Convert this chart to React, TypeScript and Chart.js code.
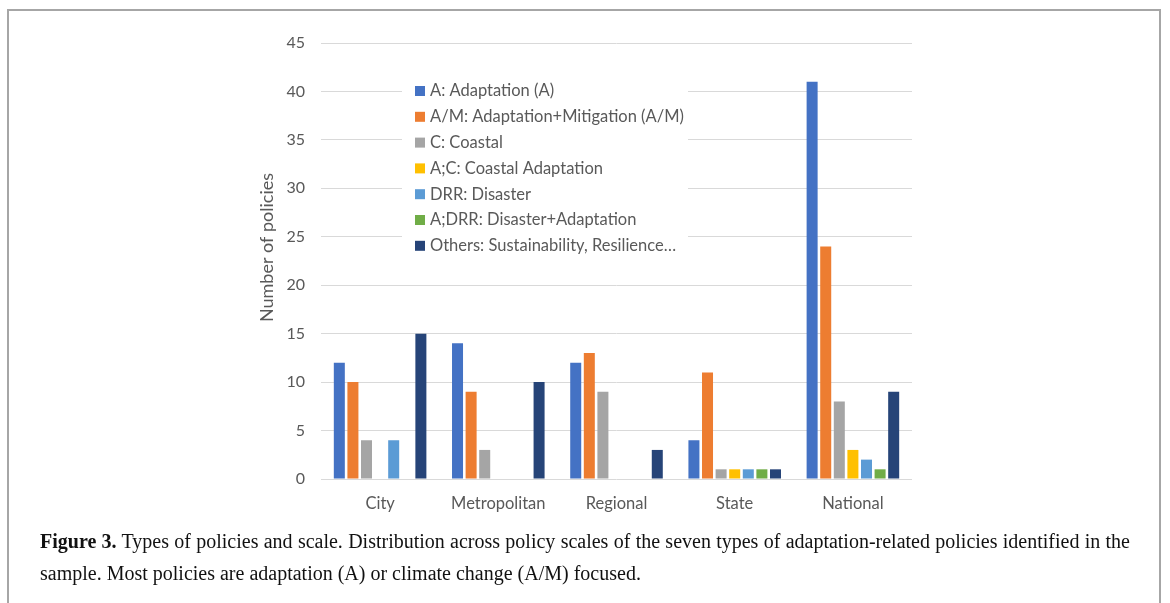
import React, { useEffect, useRef } from "react";
import { Chart, registerables } from "chart.js";

Chart.register(...registerables);

const categories = ["City", "Metropolitan", "Regional", "State", "National"];
const seriesLabels = [
  "A: Adaptation (A)",
  "A/M: Adaptation+Mitigation (A/M)",
  "C: Coastal",
  "A;C: Coastal Adaptation",
  "DRR: Disaster",
  "A;DRR: Disaster+Adaptation",
  "Others: Sustainability, Resilience…",
];
const seriesColors = ["#4472C4", "#ED7D31", "#A5A5A5", "#FFC000", "#5B9BD5", "#70AD47", "#264478"];
const adaptation = [12, 14, 12, 4, 41];
const adaptationMitigation = [10, 9, 13, 11, 24];
const coastal = [4, 3, 9, 1, 8];
const coastalAdaptation = [0, 0, 0, 1, 3];
const disaster = [4, 0, 0, 1, 2];
const disasterAdaptation = [0, 0, 0, 1, 1];
const others = [15, 10, 3, 1, 9];
const seriesValues = [
  adaptation,
  adaptationMitigation,
  coastal,
  coastalAdaptation,
  disaster,
  disasterAdaptation,
  others,
];
const yTickValues = [0, 5, 10, 15, 20, 25, 30, 35, 40, 45];
const yAxisTitle = "Number of policies";

const FONT = "Lato, 'Open Sans', sans-serif";

const insideLegend = {
  id: "insideLegend",
  afterDraw(chart: any, _args: any, opts: any) {
    const { ctx, chartArea } = chart;
    const x0 = chartArea.left + opts.offsetX;
    const y0 = chartArea.top + opts.offsetY;
    ctx.save();
    ctx.fillStyle = "#ffffff";
    ctx.fillRect(x0, y0, opts.width, opts.height);
    ctx.font = opts.font;
    ctx.textBaseline = "middle";
    ctx.textAlign = "left";
    chart.data.datasets.forEach((ds: any, i: number) => {
      const cy = y0 + opts.firstRow + i * opts.rowGap;
      ctx.fillStyle = ds.backgroundColor;
      ctx.fillRect(x0 + opts.boxX, cy - opts.boxSize / 2, opts.boxSize, opts.boxSize);
      ctx.fillStyle = opts.color;
      ctx.fillText(ds.label, x0 + opts.textX, cy);
    });
    ctx.restore();
  },
};

const yTitlePlugin = {
  id: "yTitlePlugin",
  afterDraw(chart: any, _args: any, opts: any) {
    const { ctx, chartArea } = chart;
    ctx.save();
    ctx.translate(chartArea.left + opts.dx, chartArea.top + opts.dy);
    ctx.rotate(-Math.PI / 2);
    ctx.font = opts.font;
    ctx.fillStyle = opts.color;
    ctx.textAlign = "center";
    ctx.textBaseline = "middle";
    ctx.fillText(opts.text, 0, 0);
    ctx.restore();
  },
};

function BarChart() {
  const ref = useRef<HTMLCanvasElement | null>(null);
  useEffect(() => {
    if (!ref.current) return;
    const chart = new Chart(ref.current, {
      type: "bar",
      data: {
        labels: categories,
        datasets: seriesLabels.map((label, i) => ({
          label,
          data: seriesValues[i],
          backgroundColor: seriesColors[i],
          borderWidth: 0,
          categoryPercentage: 0.805,
          barPercentage: 0.81,
        })),
      },
      options: {
        animation: false,
        responsive: false,
        maintainAspectRatio: false,
        layout: { padding: { left: 221, right: 258, top: 43, bottom: 0 } },
        plugins: {
          legend: { display: false },
          tooltip: { enabled: false },
          insideLegend: {
            offsetX: 81,
            offsetY: 32,
            width: 286,
            height: 186,
            firstRow: 16,
            rowGap: 25.8,
            boxX: 13,
            boxSize: 10,
            textX: 28,
            font: `16.5px ${FONT}`,
            color: "#595959",
          },
          yTitlePlugin: {
            text: yAxisTitle,
            dx: -54,
            dy: 204.5,
            font: `18px ${FONT}`,
            color: "#595959",
          },
        } as any,
        scales: {
          x: {
            grid: { display: false },
            border: { display: false },
            ticks: {
              color: "#595959",
              font: { family: FONT, size: 16.5 },
              padding: 7,
            },
            afterFit: (scale: any) => {
              scale.height = 51;
            },
          },
          y: {
            min: 0,
            max: 45,
            afterBuildTicks: (scale: any) => {
              scale.ticks = yTickValues.map((v) => ({ value: v }));
            },
            grid: { color: "#d9d9d9", lineWidth: 1, drawTicks: false },
            border: { display: false },
            ticks: {
              color: "#595959",
              font: { family: FONT, size: 16 },
              padding: 16,
            },
            afterFit: (scale: any) => {
              scale.width = 100;
            },
          },
        },
      },
      plugins: [insideLegend, yTitlePlugin],
    });
    return () => chart.destroy();
  }, []);
  return (
    <canvas
      ref={ref}
      width={1170}
      height={530}
      style={{ position: "fixed", left: 0, top: 0, width: 1170, height: 530 }}
    />
  );
}

export default function App() {
  const captionFont = {
    fontFamily: "'Liberation Serif', 'DejaVu Serif', serif",
    fontSize: 20,
    lineHeight: "32px",
    color: "#111",
    whiteSpace: "nowrap" as const,
  };
  return (
    <div>
      <div
        style={{
          position: "fixed",
          left: 7,
          top: 9,
          width: 1154,
          height: 640,
          border: "2px solid #a6a6a6",
          boxSizing: "border-box",
        }}
      />
      <BarChart />
      <div style={{ position: "fixed", left: 40, top: 525, width: 1090 }}>
        <div style={{ ...captionFont, textAlign: "justify", textAlignLast: "justify" }}>
          <b>Figure 3.</b> Types of policies and scale. Distribution across policy scales of the seven types of
          adaptation-related policies identified in the
        </div>
        <div style={captionFont}>
          sample. Most policies are adaptation (A) or climate change (A/M) focused.
        </div>
      </div>
    </div>
  );
}
